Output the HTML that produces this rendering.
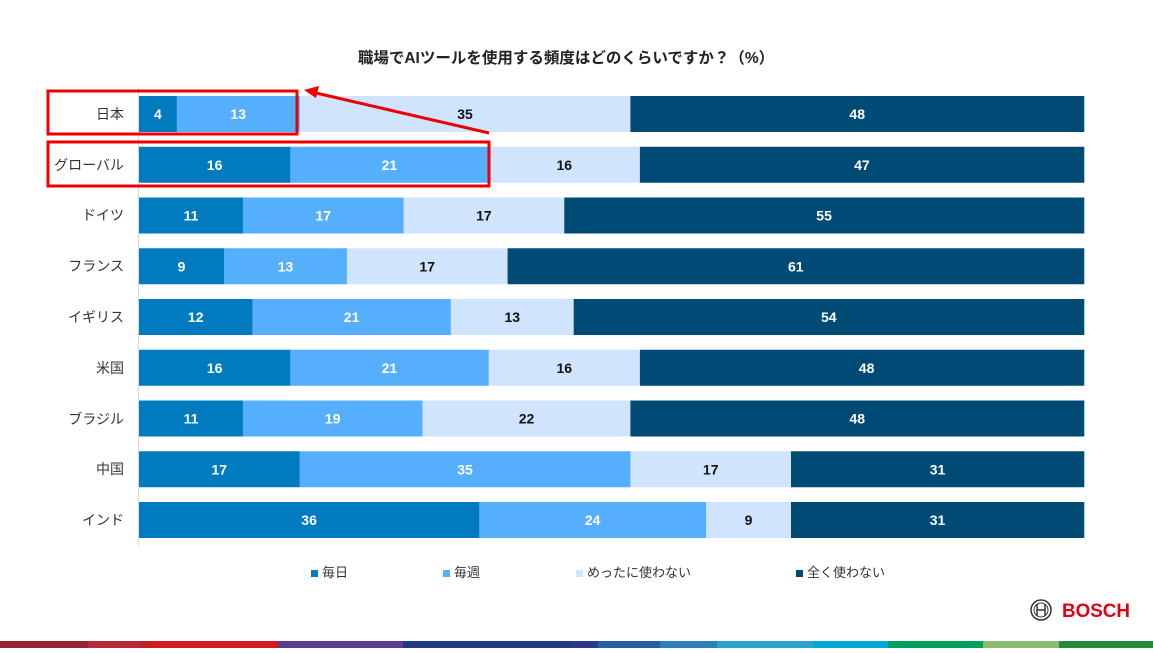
<!DOCTYPE html>
<html><head><meta charset="utf-8"><style>
body{margin:0;width:1153px;height:648px;background:#fff;overflow:hidden;font-family:"Liberation Sans","Noto Sans CJK JP",sans-serif}
</style></head><body>
<svg width="1153" height="648" xmlns="http://www.w3.org/2000/svg" font-family="Liberation Sans, Noto Sans CJK JP, sans-serif">
<text x="566" y="63" text-anchor="middle" font-size="15.5" font-weight="bold" fill="#222">職場でAIツールを使用する頻度はどのくらいですか？（%）</text>
<line x1="138.5" y1="88" x2="138.5" y2="546" stroke="#d9d9d9"/>
<g id="bars"></g>
<g font-size="14" fill="#333" text-anchor="end">
<text x="124" y="119">日本</text><text x="124" y="170">グローバル</text><text x="124" y="220">ドイツ</text>
<text x="124" y="271">フランス</text><text x="124" y="322">イギリス</text><text x="124" y="373">米国</text>
<text x="124" y="424">ブラジル</text><text x="124" y="474">中国</text><text x="124" y="525">インド</text>
</g>
<rect x="48" y="91" width="249" height="43" fill="none" stroke="#e00" stroke-width="3"/>
<rect x="48" y="142" width="441" height="44" fill="none" stroke="#e00" stroke-width="3"/>
<line x1="489" y1="133" x2="316" y2="93" stroke="#e00" stroke-width="3"/>
<polygon points="304,90 319,86 316,98" fill="#e00"/>
<g font-size="13" fill="#333">
<rect x="311" y="570" width="7" height="7" fill="#007bc0"/><text x="322" y="577">毎日</text>
<rect x="443" y="570" width="7" height="7" fill="#56affc"/><text x="454" y="577">毎週</text>
<rect x="576" y="570" width="7" height="7" fill="#d1e4fd"/><text x="587" y="577">めったに使わない</text>
<rect x="796" y="570" width="7" height="7" fill="#004b76"/><text x="807" y="577">全く使わない</text>
</g>
<circle cx="1041" cy="610" r="10" fill="none" stroke="#333" stroke-width="1.5"/>
<circle cx="1041" cy="610" r="7" fill="none" stroke="#333" stroke-width="1"/>
<line x1="1037" y1="604" x2="1037" y2="616" stroke="#333" stroke-width="1.5"/><line x1="1045" y1="604" x2="1045" y2="616" stroke="#333" stroke-width="1.5"/><line x1="1037" y1="610" x2="1045" y2="610" stroke="#333" stroke-width="1.5"/>
<text x="1062" y="617" font-size="19" font-weight="bold" fill="#e20015" textLength="68" lengthAdjust="spacingAndGlyphs">BOSCH</text>
<g>
<rect x="0" y="641" width="88" height="7" fill="#9b2335"/><rect x="88" y="641" width="53" height="7" fill="#b8283a"/>
<rect x="141" y="641" width="11" height="7" fill="#c21f28"/><rect x="152" y="641" width="126" height="7" fill="#d71920"/>
<rect x="278" y="641" width="125" height="7" fill="#5d3b8e"/><rect x="403" y="641" width="168" height="7" fill="#213a84"/>
<rect x="571" y="641" width="27" height="7" fill="#2b3990"/><rect x="598" y="641" width="62" height="7" fill="#245fa8"/>
<rect x="660" y="641" width="57" height="7" fill="#2c7fb8"/><rect x="717" y="641" width="96" height="7" fill="#29a2cc"/>
<rect x="813" y="641" width="75" height="7" fill="#00a8d6"/><rect x="888" y="641" width="95" height="7" fill="#00a05a"/>
<rect x="983" y="641" width="76" height="7" fill="#8cbd6e"/><rect x="1059" y="641" width="94" height="7" fill="#268a3d"/>
</g>
</svg>
<script>
var d=[[4,13,35,48],[16,21,16,47],[11,17,17,55],[9,13,17,61],[12,21,13,54],[16,21,16,48],[11,19,22,48],[17,35,17,31],[36,24,9,31]];
var c=["#007bc0","#56affc","#d1e4fd","#004b76"],tc=["#fff","#fff","#111","#fff"];
var g=document.getElementById("bars"),s="",x0=139,W=945,XM=1084;
d.forEach(function(r,i){var y=96+i*50.75,x=x0;r.forEach(function(v,j){var w=v/100*W;var rw=Math.min(x+w,XM)-x;
s+='<rect x="'+x.toFixed(1)+'" y="'+y+'" width="'+(rw+0.3).toFixed(1)+'" height="36" fill="'+c[j]+'"/>';
s+='<text x="'+(x+w/2).toFixed(1)+'" y="'+(y+23)+'" text-anchor="middle" font-size="14" font-weight="bold" fill="'+tc[j]+'">'+v+'</text>';x+=w;});});
g.innerHTML=s;
</script>
</body></html>
